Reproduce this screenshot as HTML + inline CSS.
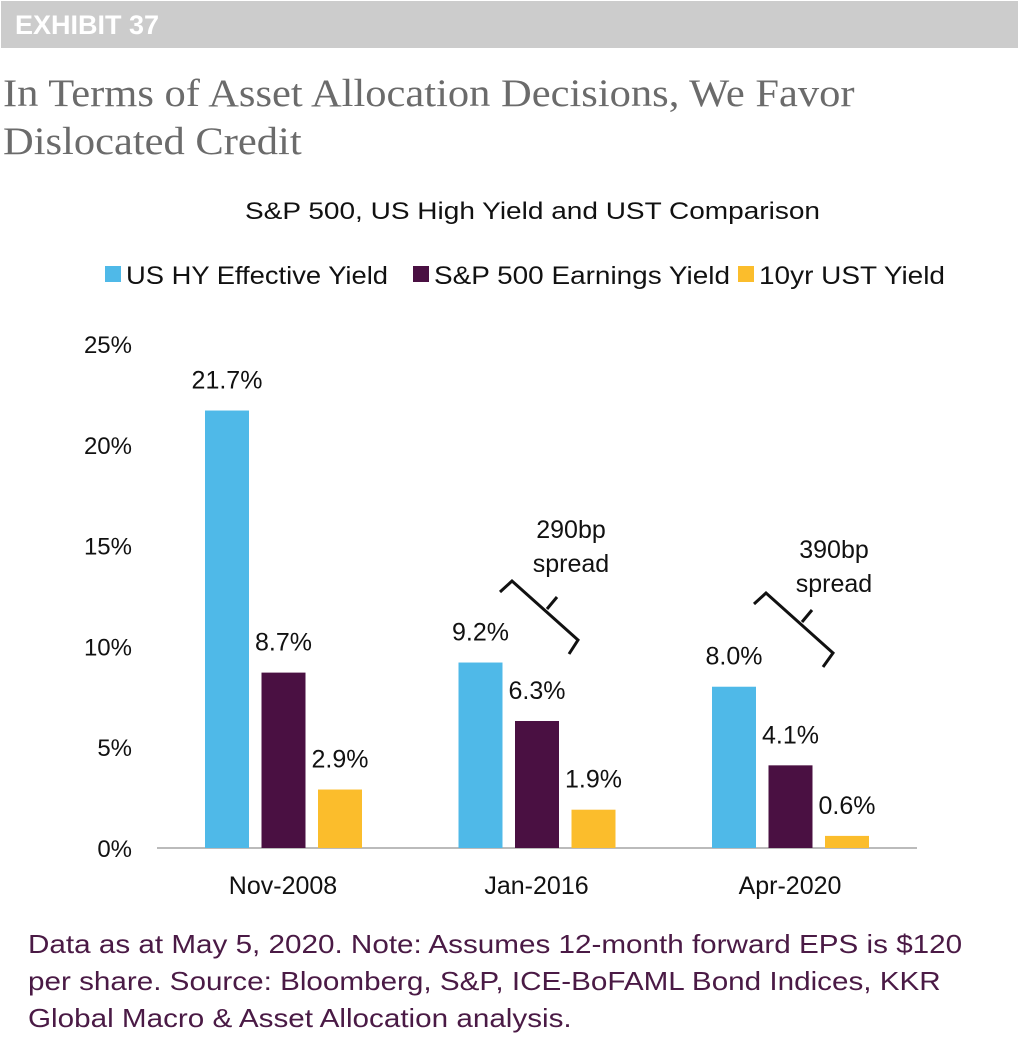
<!DOCTYPE html>
<html><head><meta charset="utf-8"><style>
body{margin:0;width:1021px;height:1048px;background:#fff;overflow:hidden;font-family:"Liberation Sans",sans-serif;}
#hdr{position:absolute;left:1px;top:1px;width:1017px;height:47px;background:#cccccc;}
#hdr span{position:absolute;left:14px;top:9px;color:#fff;font-weight:bold;font-size:27px;}
#title{position:absolute;left:3px;top:70px;font-family:"Liberation Serif",serif;font-size:39px;color:#6b6b6b;line-height:48px;transform:scaleX(1.09);transform-origin:0 0;white-space:nowrap;}
#note{position:absolute;left:28px;top:926px;font-size:26px;color:#4a1a45;line-height:37px;transform:scaleX(1.14);transform-origin:0 0;white-space:nowrap;}
svg{position:absolute;left:0;top:0;}
</style></head><body>
<div id="hdr"><span>EXHIBIT 37</span></div>
<div id="title">In Terms of Asset Allocation Decisions, We Favor<br>Dislocated Credit</div>
<svg id="chart" width="1021" height="1048" font-family="Liberation Sans, sans-serif" font-size="24" fill="#111"></svg>
<div id="note">Data as at May 5, 2020. Note: Assumes 12-month forward EPS is $120<br>per share. Source: Bloomberg, S&amp;P, ICE-BoFAML Bond Indices, KKR<br>Global Macro &amp; Asset Allocation analysis.</div>
<script>
const categories=["Nov-2008","Jan-2016","Apr-2020"];
const seriesNames=["US HY Effective Yield","S&P 500 Earnings Yield","10yr UST Yield"];
const hyValues=[21.7,9.2,8.0];
const spxValues=[8.7,6.3,4.1];
const ustValues=[2.9,1.9,0.6];
const yTicks=[0,5,10,15,20,25];
const colors=["#4fb9e8","#4a1042","#fbbd2c"];
const series=[hyValues,spxValues,ustValues];
const svg=document.getElementById('chart');
const NS='http://www.w3.org/2000/svg';
function y(v){return 848-v*504/25;}
function gx(i){return 283+i*253.5;}
function mk(t,a,txt){const e=document.createElementNS(NS,t);for(const k in a)e.setAttribute(k,a[k]);if(txt!=null)e.textContent=txt;svg.appendChild(e);return e;}
let e;
e=mk('text',{x:245,y:219,'font-size':24,textLength:575,lengthAdjust:'spacingAndGlyphs'},'S&P 500, US High Yield and UST Comparison');


const legX=[105,413,738];
const legW=[262,296,186];
seriesNames.forEach((n,i)=>{
 e=mk('rect',{x:legX[i],y:266,width:16,height:16,fill:colors[i]});
 
 
 e=mk('text',{x:legX[i]+21,y:284,'font-size':25,textLength:legW[i],lengthAdjust:'spacingAndGlyphs'},n);
 
 
});
yTicks.forEach(t=>{
 e=mk('text',{x:132,y:y(t)+9,'text-anchor':'end','font-size':24},t+'%');
 
 
});
e=mk('line',{x1:157,x2:917,y1:848,y2:848,stroke:'#bbb','stroke-width':2});


categories.forEach((c,i)=>{
 series.forEach((s,j)=>{
  const x=gx(i)-78+j*56.5, v=s[i];
  e=mk('rect',{x:x,y:y(v),width:44,height:848-y(v),fill:colors[j]});
  
  
  e=mk('text',{x:x+22,y:y(v)-22,'text-anchor':'middle','font-size':25},v.toFixed(1)+'%');
  
  
 });
 e=mk('text',{x:gx(i),y:894,'text-anchor':'middle','font-size':25},c);
 
 
});
const brackets=[{p:"500,592 512,581 578,640 569,654",t:"547,609 557,597",lx:571,ly:538,a:"290bp"},
{p:"754,604 766,593 833,653 823,667",t:"802,622 812,610",lx:834,ly:558,a:"390bp"}];
brackets.forEach(b=>{
 e=mk('polyline',{points:b.p,fill:'none',stroke:'#111','stroke-width':3});
 
 
 e=mk('polyline',{points:b.t,fill:'none',stroke:'#111','stroke-width':3});
 
 
 e=mk('text',{x:b.lx,y:b.ly,'text-anchor':'middle','font-size':25},b.a);
 
 
 e=mk('text',{x:b.lx,y:b.ly+34,'text-anchor':'middle','font-size':25},'spread');
 
 
});
</script>
</body></html>
